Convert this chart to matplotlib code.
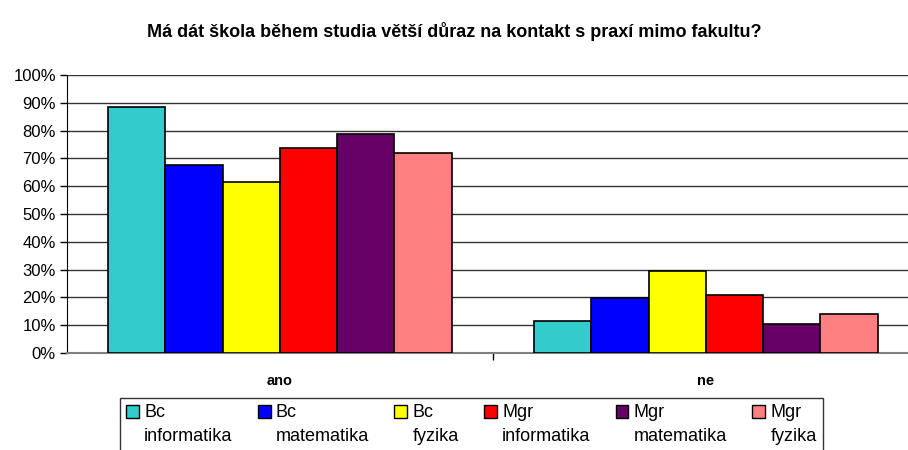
import numpy as np
import matplotlib
matplotlib.use("Agg")
from matplotlib import pyplot as plt
from matplotlib.patches import Patch, Rectangle
from matplotlib.legend_handler import HandlerPatch
from matplotlib.ticker import PercentFormatter
from matplotlib import font_manager

plt.rcParams["font.family"] = ["Liberation Sans", "DejaVu Sans"]

categories = ["ano", "ne"]
series = ["Bc\ninformatika", "Bc\nmatematika", "Bc\nfyzika",
          "Mgr\ninformatika", "Mgr\nmatematika", "Mgr\nfyzika"]
values = [
    [88.5, 11.5],
    [67.5, 19.6],
    [61.5, 29.5],
    [73.7, 21.0],
    [78.6, 10.4],
    [71.8, 14.2],
]
colors = ["#33CCCC", "#0000FF", "#FFFF00", "#FF0000", "#660066", "#FF8080"]

# narrow face for the legend if there is one
names = {f.name for f in font_manager.fontManager.ttflist}
leg_family = ["Liberation Sans Narrow"] if "Liberation Sans Narrow" in names else ["Liberation Sans"]
LEG_SIZE = 13


def top_square(legend, orig_handle, xdescent, ydescent, width, height, fontsize):
    # put the swatch next to the first text line, not in the middle
    return Rectangle((-xdescent, -ydescent + 0.75 * fontsize), width, height)


fig = plt.figure(figsize=(9.08, 4.5), dpi=100)
# plot area runs a little past the right edge of the picture, as in the original
ax = fig.add_axes([0.0738, 0.2156, 0.938, 0.6177])

x = np.arange(len(categories))
group_w = 0.807
bar_w = group_w / len(series)
for i, (vals, c) in enumerate(zip(values, colors)):
    ax.bar(x - group_w / 2 + bar_w * (i + 0.5), vals, width=bar_w,
           color=c, edgecolor="black", linewidth=1.2, zorder=3)

ax.set_xlim(-0.5, 1.5)
ax.set_ylim(0, 100)
ax.set_yticks(np.arange(0, 101, 10))
ax.yaxis.set_major_formatter(PercentFormatter(decimals=0))
ax.grid(axis="y", color="#333333", linewidth=1, zorder=0)
ax.tick_params(axis="y", labelsize=12, length=5, width=1, direction="out", pad=3)

ax.set_xticks(x)
ax.set_xticklabels(categories, fontweight="bold", fontsize=10.5)
ax.tick_params(axis="x", length=0, pad=15)
ax.set_xticks([0.5], minor=True)
ax.tick_params(axis="x", which="minor", length=5, width=1)

for side in ["top", "right"]:
    ax.spines[side].set_visible(False)
ax.spines["left"].set_color("black")
ax.spines["bottom"].set_color("#808080")
ax.spines["bottom"].set_linewidth(1.5)

fig.text(0.5, 0.93, "Má dát škola během studia větší důraz na kontakt s praxí mimo fakultu?",
         ha="center", va="center", fontsize=13, fontweight="bold")

handles = [Patch(facecolor=c, edgecolor="black") for c in colors]
leg = fig.legend(handles, series, loc="upper left", bbox_to_anchor=(0.132, 0.1155),
                 ncol=6, frameon=True, fancybox=False, edgecolor="black",
                 prop={"family": leg_family, "size": LEG_SIZE},
                 handlelength=0.7, handleheight=0.7,
                 handletextpad=0.3, columnspacing=1.4, borderaxespad=0,
                 borderpad=0.35,
                 handler_map={Patch: HandlerPatch(patch_func=top_square)})
leg.get_frame().set_linewidth(1)
for t in leg.get_texts():
    t.set_linespacing(1.5)

fig.savefig("out.png", dpi=100)
